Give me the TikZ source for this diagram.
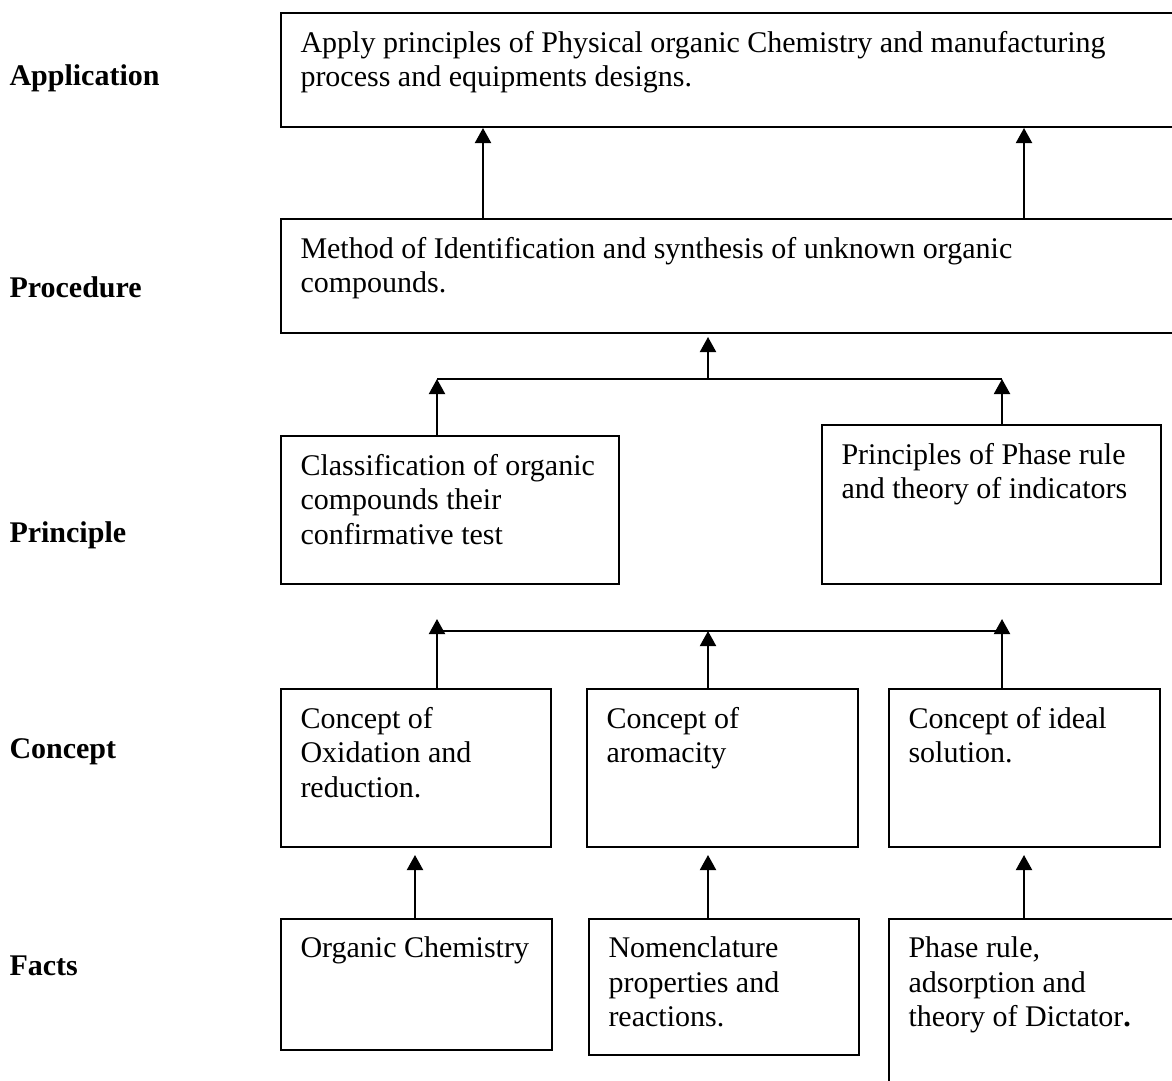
\documentclass[tikz,border=0pt]{standalone}
\usepackage{fontspec}
\setmainfont{Liberation Serif}
\usetikzlibrary{arrows.meta}
\tikzstyle{level} = [anchor=base west, inner sep=0pt, font=\fontsize{12pt}{13.8pt}\selectfont\bfseries]
\tikzstyle{txt} = [anchor=north west, inner sep=0pt, align=left, font=\fontsize{12pt}{13.8pt}\selectfont]
\tikzstyle{arrow} = [line width=0.8pt, -{Triangle[width=6.4pt,length=6pt]}]
\tikzstyle{bar} = [line width=0.8pt]
\tikzset{block/.style 2 args={rectangle, draw=black, line width=0.8pt, anchor=north west, inner sep=0pt, minimum width=#1*0.4pt, minimum height=#2*0.4pt}}

\begin{document}
\begin{tikzpicture}[x=0.4pt, y=-0.4pt]
        \useasboundingbox (0,0) rectangle (1172,1080);
        % levels
        \node (lapp) [level] at (9,85) {Application};
        \node (lproc) [level] at (9,297) {Procedure};
        \node (lprin) [level] at (9,542) {Principle};
        \node (lcon) [level] at (9,758) {Concept};
        \node (lfac) [level] at (9,975) {Facts};
        % boxes
        \node (app) [block={905}{114}] at (280,12) {};
        \node (proc) [block={905}{114}] at (280,218) {};
        \node (cls) [block={338}{148}] at (280,435) {};
        \node (phr) [block={339}{159}] at (821,424) {};
        \node (cox) [block={270}{158}] at (280,688) {};
        \node (car) [block={271}{158}] at (586,688) {};
        \node (cid) [block={271}{158}] at (888,688) {};
        \node (forg) [block={271}{131}] at (280,918) {};
        \node (fnom) [block={270}{136}] at (588,918) {};
        \node (fpha) [block={300}{180}] at (888,918) {};
        % texts
        \node (appt) [txt] at ([xshift=8pt, yshift=-7.4pt]app.north west) {Apply principles of Physical organic Chemistry and manufacturing\\process and equipments designs.};
        \node (proct) [txt] at ([xshift=8pt, yshift=-7.4pt]proc.north west) {Method of Identification and synthesis of unknown organic\\compounds.};
        \node (clst) [txt] at ([xshift=8pt, yshift=-7.4pt]cls.north west) {Classification of organic\\compounds their\\confirmative test};
        \node (phrt) [txt] at ([xshift=8pt, yshift=-7.4pt]phr.north west) {Principles of Phase rule\\and theory of indicators};
        \node (coxt) [txt] at ([xshift=8pt, yshift=-7.4pt]cox.north west) {Concept of\\Oxidation and\\reduction.};
        \node (cart) [txt] at ([xshift=8pt, yshift=-7.4pt]car.north west) {Concept of\\aromacity};
        \node (cidt) [txt] at ([xshift=8pt, yshift=-7.4pt]cid.north west) {Concept of ideal\\solution.};
        \node (forgt) [txt] at ([xshift=8pt, yshift=-7.4pt]forg.north west) {Organic Chemistry};
        \node (fnomt) [txt] at ([xshift=8pt, yshift=-7.4pt]fnom.north west) {Nomenclature\\properties and\\reactions.};
        \node (fphat) [txt] at ([xshift=8pt, yshift=-7.4pt]fpha.north west) {Phase rule,\\adsorption and\\theory of Dictator\textbf{.}};
        % columns and bars
        \coordinate (xa) at (483,0);
        \coordinate (xb) at (1024,0);
        \coordinate (xl) at (437,0);
        \coordinate (xm) at (708,0);
        \coordinate (xr) at (1002,0);
        \coordinate (xf) at (415,0);
        \coordinate (barP) at (0,379);
        \coordinate (barC) at (0,631);
        % connectors
        \draw [arrow] (xa |- proc.north) -- (xa |- app.south);
        \draw [arrow] (xb |- proc.north) -- (xb |- app.south);
        \draw [bar] (xl |- barP) -- (xr |- barP);
        \draw [arrow] (xl |- cls.north) -- (xl |- barP);
        \draw [arrow] (xr |- phr.north) -- (xr |- barP);
        \draw [arrow] (xm |- barP) -- ([yshift=-1.2pt]xm |- proc.south);
        \draw [bar] (xl |- barC) -- (xr |- barC);
        \draw [arrow] (xl |- cox.north) -- ([yshift=4.8pt]xl |- barC);
        \draw [arrow] (xm |- car.north) -- (xm |- barC);
        \draw [arrow] (xr |- cid.north) -- ([yshift=4.8pt]xr |- barC);
        \draw [arrow] (xf |- forg.north) -- ([yshift=-2.8pt]xf |- cox.south);
        \draw [arrow] (xm |- fnom.north) -- ([yshift=-2.8pt]xm |- car.south);
        \draw [arrow] (xb |- fpha.north) -- ([yshift=-2.8pt]xb |- cid.south);
\end{tikzpicture}
\end{document}
